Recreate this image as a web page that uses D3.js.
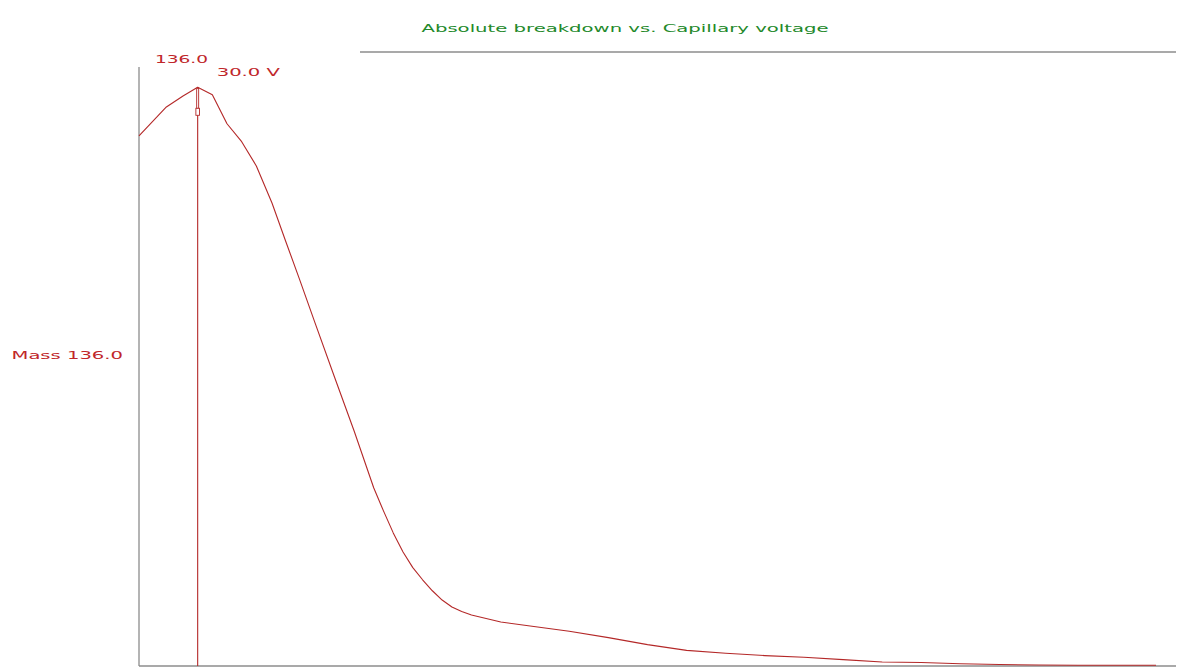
<!DOCTYPE html>
<html>
<head>
<meta charset="utf-8">
<script src="https://cdn.jsdelivr.net/npm/d3@7"></script>
<style>
  html, body { margin: 0; padding: 0; background: #fff; }
  svg { display: block; }
  text { font-family: "DejaVu Sans", Verdana, sans-serif; }
</style>
</head>
<body>
<svg id="chart" width="1178" height="667"></svg>
<script>
// Capillary voltage (V) and absolute intensity of mass 136.0 (% of maximum)
const voltages = [0, 14, 22.5, 30, 37.5, 45, 52.5, 60, 68, 75, 82, 90, 100, 110, 120, 125, 130, 135, 140, 145, 150, 155, 160, 165, 170, 185, 200, 220, 240, 260, 280, 300, 320, 340, 360, 380, 400, 420, 440, 460, 480, 500, 520];
const intensity = [91.6, 96.6, 98.5, 100, 98.7, 93.7, 90.6, 86.4, 80.0, 73.4, 66.9, 59.3, 49.9, 40.6, 30.8, 26.8, 23.0, 19.7, 17.0, 14.9, 13.0, 11.4, 10.2, 9.4, 8.8, 7.6, 6.9, 6.0, 4.9, 3.7, 2.7, 2.2, 1.8, 1.5, 1.1, 0.7, 0.6, 0.4, 0.26, 0.17, 0.12, 0.12, 0.12];

const titleText = "Absolute breakdown vs. Capillary voltage";
const seriesLabel = "Mass 136.0";
const massLabel = "136.0";
const markerVoltage = 30.0;

const lineColor = "#b42828";
const textColor = "#c0262a";
const frameColor = "#8c8c8c";

const svg = d3.select("#chart");

const x = d3.scaleLinear().domain([0, 520]).range([139, 1156]);
const y = d3.scaleLinear().domain([0, 106.1]).range([666, 52]);

const data = voltages.map((v, i) => ({ v, a: intensity[i] }));

// frame: left, bottom and top rules
svg.append("line").attr("x1", 139).attr("x2", 139).attr("y1", 67).attr("y2", 666)
  .attr("stroke", frameColor).attr("stroke-width", 1.3);
svg.append("line").attr("x1", 139).attr("x2", 1176).attr("y1", 666).attr("y2", 666)
  .attr("stroke", frameColor).attr("stroke-width", 1.5);
svg.append("line").attr("x1", 360).attr("x2", 1176).attr("y1", 52).attr("y2", 52)
  .attr("stroke", frameColor).attr("stroke-width", 1.3);

// intensity trace
const line = d3.line().x(d => x(d.v)).y(d => y(d.a)).curve(d3.curveLinear);
svg.append("path").datum(data).attr("d", line)
  .attr("fill", "none").attr("stroke", lineColor).attr("stroke-width", 1.1)
  .attr("stroke-linejoin", "round");

// cursor at the maximum
const peak = data.find(d => d.v === markerVoltage);
const px = x(peak.v), py = y(peak.a);
svg.append("line").attr("x1", px).attr("x2", px).attr("y1", py).attr("y2", 666)
  .attr("stroke", lineColor).attr("stroke-width", 1.1);
svg.append("rect").attr("x", px - 1).attr("y", py + 1).attr("width", 2).attr("height", 20)
  .attr("fill", "#fff").attr("stroke", lineColor).attr("stroke-width", 0.9);
svg.append("rect").attr("x", px - 1.8).attr("y", py + 21).attr("width", 3.6).attr("height", 7)
  .attr("fill", "#fff").attr("stroke", lineColor).attr("stroke-width", 0.9);

// texts
svg.append("text").attr("x", 421.5).attr("y", 31.7)
  .attr("textLength", 407).attr("lengthAdjust", "spacingAndGlyphs")
  .attr("font-size", 10.5).attr("fill", "#23892a").text(titleText);

svg.append("text").attr("x", 11.5).attr("y", 359.3)
  .attr("textLength", 111.5).attr("lengthAdjust", "spacingAndGlyphs")
  .attr("font-size", 10.5).attr("fill", textColor).text(seriesLabel);

svg.append("text").attr("x", 155).attr("y", 62.7)
  .attr("textLength", 53).attr("lengthAdjust", "spacingAndGlyphs")
  .attr("font-size", 11).attr("fill", textColor).text(massLabel);

svg.append("text").attr("x", 216.7).attr("y", 76.3)
  .attr("textLength", 63.3).attr("lengthAdjust", "spacingAndGlyphs")
  .attr("font-size", 10.5).attr("fill", textColor)
  .text(d3.format(".1f")(markerVoltage) + " V");
</script>
</body>
</html>
